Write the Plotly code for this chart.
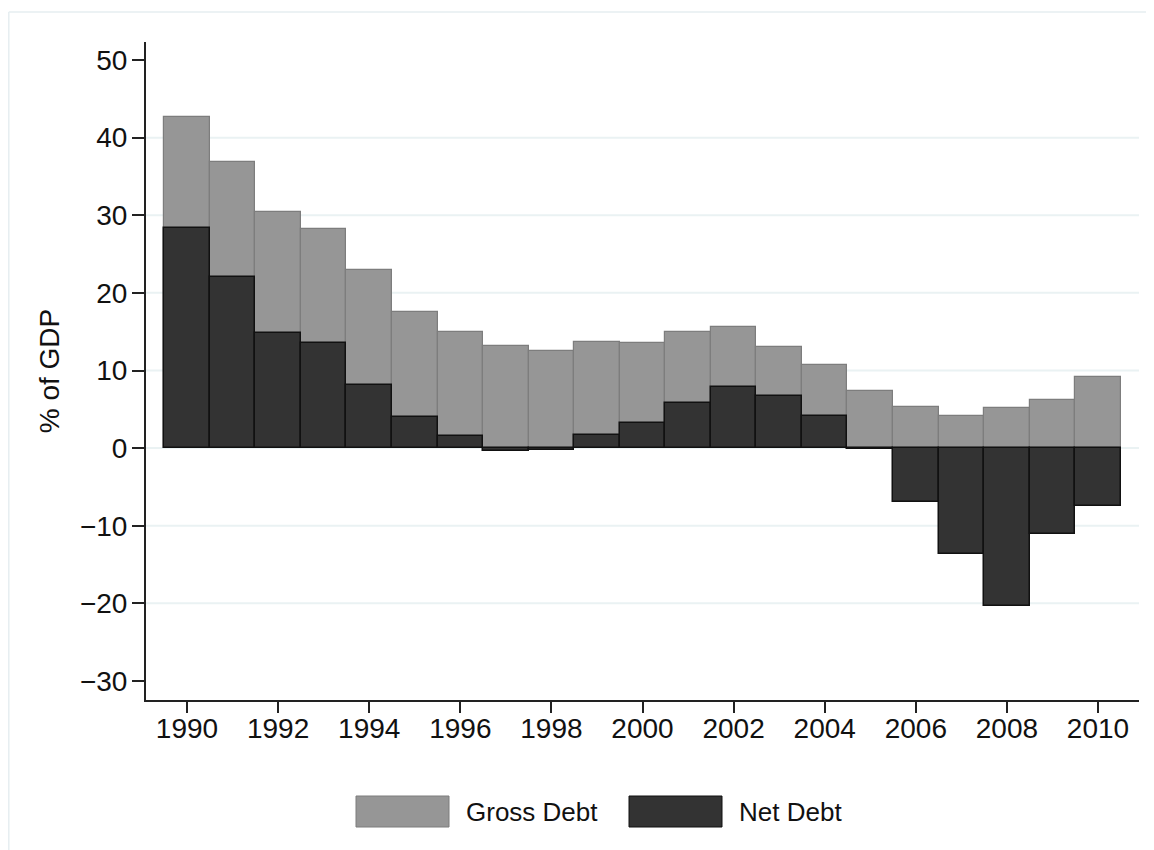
import plotly.graph_objects as go

years = list(range(1990, 2011))
gross_debt = [42.6, 36.8, 30.4, 28.2, 23.0, 17.6, 15.0, 13.15, 12.5, 13.7, 13.6,
              14.9, 15.6, 13.0, 10.7, 7.3, 5.3, 4.1, 5.2, 6.2, 9.2]
net_debt = [28.4, 22.1, 14.8, 13.5, 8.1, 4.0, 1.5, -0.4, -0.3, 1.7, 3.2,
            5.8, 7.9, 6.7, 4.1, -0.1, -7.0, -13.7, -20.3, -11.1, -7.5]
y_ticks = [-30, -20, -10, 0, 10, 20, 30, 40, 50]
grid_values = [-20, -10, 0, 10, 20, 30, 40]
x_ticks = list(range(1990, 2011, 2))
series_names = ["Gross Debt", "Net Debt"]

GROSS_FILL = "#969696"
NET_FILL = "#333333"
FONT = "Liberation Sans, Arial, Helvetica, sans-serif"

W, H = 1154, 850
OFF = 8  # page body margin offset
# plot area in screen pixels: x 146..1139, y 42..700
L = 146 - OFF
T = 42 - OFF
R = W - (1139 - OFF)
B = H - (700 - OFF)
PW, PH = W - L - R, H - T - B


def px_x(sx):
    return (sx - OFF - L) / PW


def px_y(sy):
    return (H - B - (sy - OFF)) / PH


fig = go.Figure()
fig.add_trace(go.Bar(x=years, y=gross_debt, name=series_names[0], width=1,
                     marker=dict(color=GROSS_FILL, line=dict(color="#7d7d7d", width=1.2)),
                     showlegend=False))
fig.add_trace(go.Bar(x=years, y=net_debt, name=series_names[1], width=1,
                     marker=dict(color=NET_FILL, line=dict(color="#111111", width=1.5)),
                     showlegend=False))

shapes = []
for g in grid_values:
    shapes.append(dict(type="line", xref="paper", yref="y", x0=0, x1=1, y0=g, y1=g,
                       line=dict(color="#eaf2f3", width=2), layer="below"))

# outer frame (graph region border)
fx = px_x(8.8)
fy = px_y(12)
shapes.append(dict(type="line", xref="paper", yref="paper", x0=fx, x1=fx, y0=px_y(H + 20), y1=fy,
                   line=dict(color="#e6eef1", width=1.5)))
shapes.append(dict(type="line", xref="paper", yref="paper", x0=fx, x1=px_x(W + 20), y0=fy, y1=fy,
                   line=dict(color="#e6eef1", width=1.5)))

# legend swatches
legend_items = [(356, 449, 464, GROSS_FILL, "#7d7d7d"), (629, 722, 737, NET_FILL, "#111111")]
annotations = []
for (sx0, sx1, tx, fill, edge), name in zip(legend_items, series_names):
    shapes.append(dict(type="rect", xref="paper", yref="paper",
                       x0=px_x(sx0), x1=px_x(sx1), y0=px_y(827), y1=px_y(796),
                       fillcolor=fill, line=dict(color=edge, width=1)))
    annotations.append(dict(xref="paper", yref="paper", x=px_x(tx), y=px_y(811.5),
                            xanchor="left", yanchor="middle", showarrow=False,
                            text=name, font=dict(family=FONT, size=26, color="#111111")))

fig.update_layout(
    width=W, height=H,
    margin=dict(l=L, r=R, t=T, b=B),
    paper_bgcolor="white", plot_bgcolor="white",
    barmode="overlay", bargap=0,
    shapes=shapes, annotations=annotations,
    font=dict(family=FONT, color="#111111"),
    xaxis=dict(range=[1989.1, 2010.9], tickvals=x_ticks, ticks="outside", ticklen=11,
               tickwidth=1.5, tickcolor="#222222", showline=True, linecolor="#222222",
               linewidth=2, showgrid=False, zeroline=False, ticklabelstandoff=-9,
               tickfont=dict(family=FONT, size=28, color="#111111")),
    yaxis=dict(range=[-32.45, 52.32], tickvals=y_ticks, ticks="outside", ticklen=12,
               tickwidth=1.5, tickcolor="#222222", showline=True, linecolor="#222222",
               linewidth=2, showgrid=False, zeroline=False, ticklabelstandoff=-1,
               tickfont=dict(family=FONT, size=28, color="#111111"),
               title=dict(text="% of GDP", standoff=12,
                          font=dict(family=FONT, size=28, color="#111111"))),
)

fig.write_html("out.html")
